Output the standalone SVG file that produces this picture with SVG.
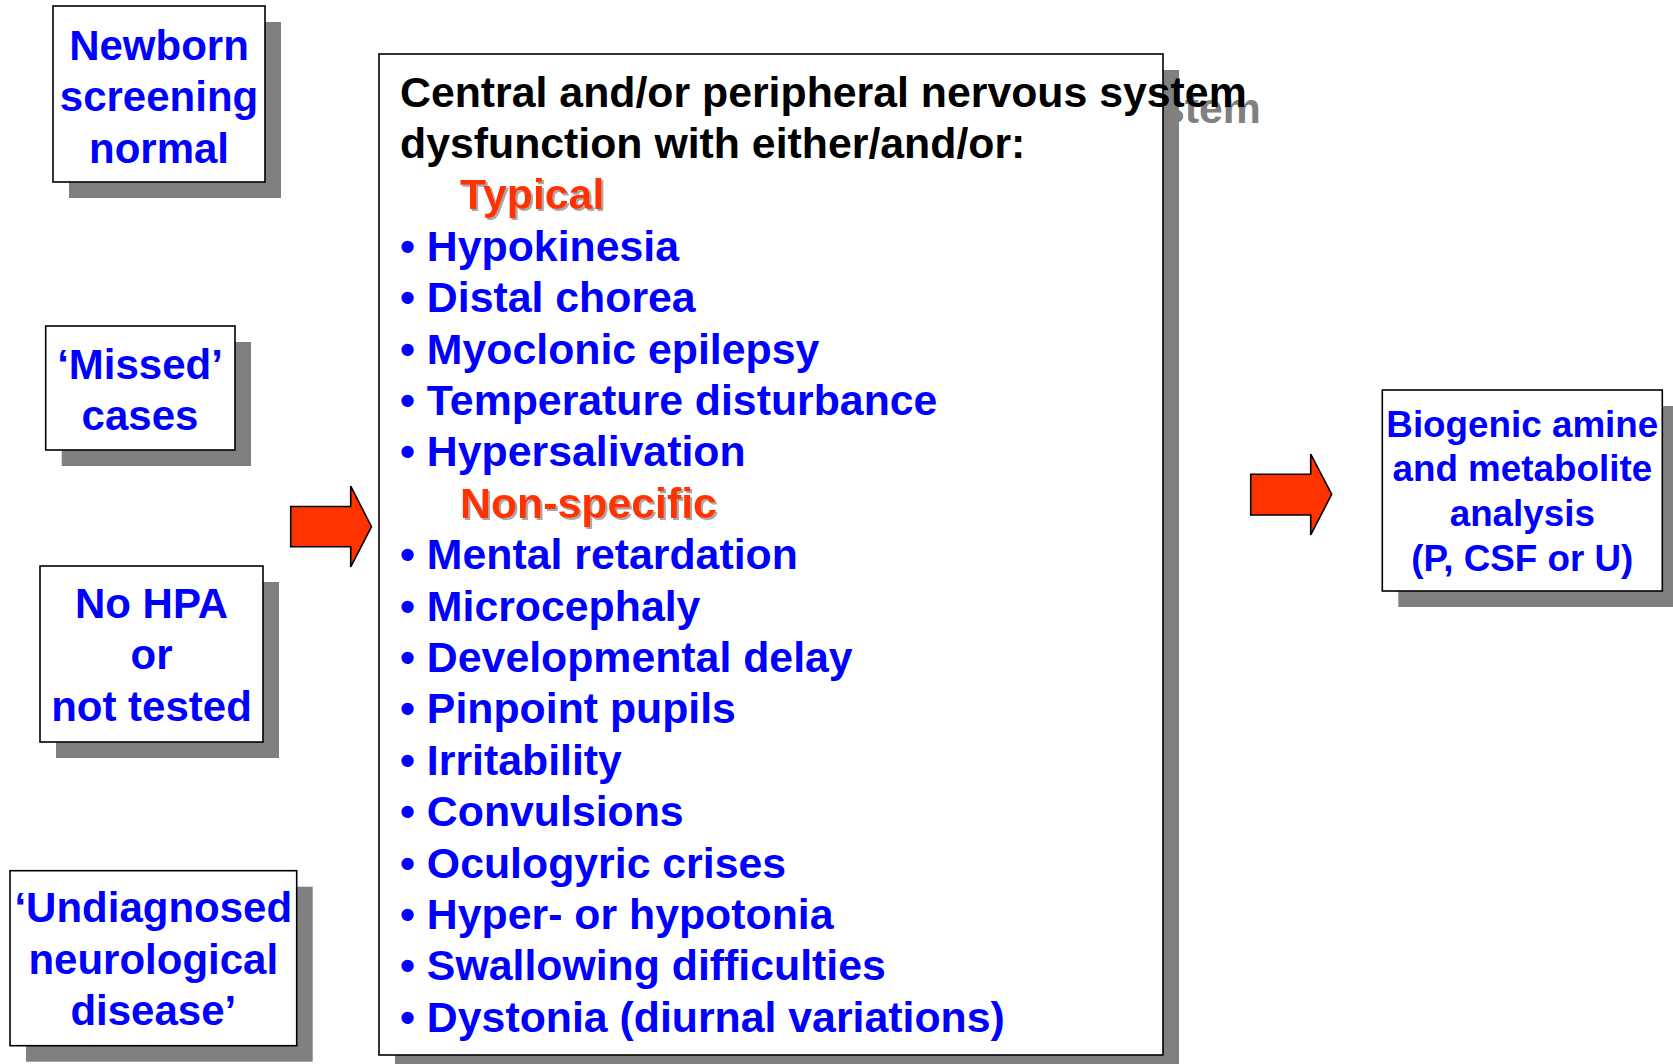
<svg xmlns="http://www.w3.org/2000/svg" width="1673" height="1064" viewBox="0 0 1673 1064">
  <defs>
    <filter id="ts" x="-5%" y="-20%" width="115%" height="150%">
      <feDropShadow dx="2" dy="2" stdDeviation="0.6" flood-color="#A8A8A8" flood-opacity="1"/>
    </filter>
  </defs>
  <style>
    text { font-family: "Liberation Sans", Arial, Helvetica, sans-serif; font-weight: bold; }
    .shadow { fill: #808080; stroke: none; }
    .box { fill: #ffffff; stroke: #000000; stroke-width: 1.6; }
    .lbl { fill: #0000ff; font-size: 42px; text-anchor: middle; }
    .lbl2 { fill: #0000ff; font-size: 36.8px; text-anchor: middle; }
    .head { fill: #000000; font-size: 42.8px; }
    .item { fill: #0000ff; font-size: 42.8px; }
    .cat { fill: #ff3300; font-size: 42.8px; filter: url(#ts); }
    .ghost { fill: #808080; font-size: 42.8px; }
    .arrow { fill: #ff3300; stroke: #000000; stroke-width: 1.6; stroke-linejoin: miter; }
  </style>

  <rect width="1673" height="1064" fill="#ffffff"/>

  <g id="newborn">
    <rect class="shadow" x="69" y="22" width="212" height="176"/>
    <rect class="box" x="53" y="6" width="212" height="176"/>
    <text class="lbl" x="159" y="60">Newborn</text>
    <text class="lbl" x="159" y="111.3">screening</text>
    <text class="lbl" x="159" y="162.6">normal</text>
  </g>

  <g id="missed">
    <rect class="shadow" x="61.7" y="342" width="189.3" height="124"/>
    <rect class="box" x="45.7" y="326" width="189.3" height="124"/>
    <text class="lbl" x="140" y="379">‘Missed’</text>
    <text class="lbl" x="140" y="429.5">cases</text>
  </g>

  <g id="nohpa">
    <rect class="shadow" x="56" y="582" width="223" height="176"/>
    <rect class="box" x="40" y="566" width="223" height="176"/>
    <text class="lbl" x="151.5" y="618">No HPA</text>
    <text class="lbl" x="151.5" y="669.3">or</text>
    <text class="lbl" x="151.5" y="720.6">not tested</text>
  </g>

  <g id="undiagnosed">
    <rect class="shadow" x="26" y="886.7" width="286.7" height="175"/>
    <rect class="box" x="10" y="870.7" width="286.7" height="175"/>
    <text class="lbl" x="153.3" y="922">‘Undiagnosed</text>
    <text class="lbl" x="153.3" y="973.5">neurological</text>
    <text class="lbl" x="153.3" y="1025">disease’</text>
  </g>

  <g id="symptoms">
    <text class="ghost" x="1161" y="122.5">stem</text>
    <rect class="shadow" x="395" y="70" width="784" height="1001"/>
    <rect class="box" x="379" y="54" width="784" height="1001"/>
    <text class="head" x="400" y="106.5">Central and/or peripheral nervous system</text>
    <text class="head" x="400" y="157.9">dysfunction with either/and/or:</text>
    <text class="cat" x="460" y="209.3">Typical</text>
    <text class="item" x="400" y="260.7">• Hypokinesia</text>
    <text class="item" x="400" y="312.1">• Distal chorea</text>
    <text class="item" x="400" y="363.5">• Myoclonic epilepsy</text>
    <text class="item" x="400" y="414.9">• Temperature disturbance</text>
    <text class="item" x="400" y="466.3">• Hypersalivation</text>
    <text class="cat" x="460" y="517.7">Non-specific</text>
    <text class="item" x="400" y="569.1">• Mental retardation</text>
    <text class="item" x="400" y="620.5">• Microcephaly</text>
    <text class="item" x="400" y="671.9">• Developmental delay</text>
    <text class="item" x="400" y="723.3">• Pinpoint pupils</text>
    <text class="item" x="400" y="774.7">• Irritability</text>
    <text class="item" x="400" y="826.1">• Convulsions</text>
    <text class="item" x="400" y="877.5">• Oculogyric crises</text>
    <text class="item" x="400" y="928.9">• Hyper- or hypotonia</text>
    <text class="item" x="400" y="980.3">• Swallowing difficulties</text>
    <text class="item" x="400" y="1031.7">• Dystonia (diurnal variations)</text>
  </g>

  <g id="analysis">
    <rect class="shadow" x="1398.3" y="406" width="280" height="201"/>
    <rect class="box" x="1382.3" y="390" width="280" height="201"/>
    <text class="lbl2" x="1522.3" y="436.5">Biogenic amine</text>
    <text class="lbl2" x="1522.3" y="481.2">and metabolite</text>
    <text class="lbl2" x="1522.3" y="525.9">analysis</text>
    <text class="lbl2" x="1522.3" y="570.6">(P, CSF or U)</text>
  </g>

  <g id="connectors">
    <polygon class="arrow" points="290.7,506.5 350.7,506.5 350.7,486 371.5,526.7 350.7,567 350.7,546.7 290.7,546.7"/>
    <polygon class="arrow" points="1250.7,474.3 1310.7,474.3 1310.7,454 1331.7,494.3 1310.7,535 1310.7,515 1250.7,515"/>
  </g>
</svg>
